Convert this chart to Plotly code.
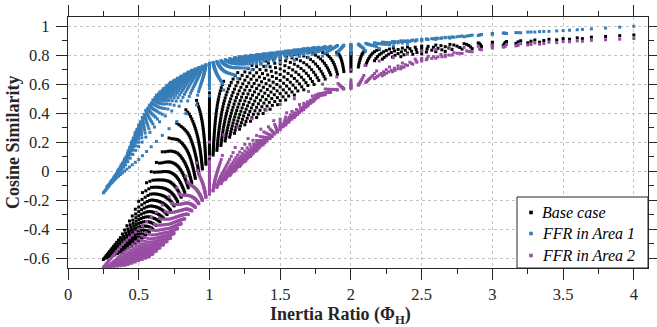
import numpy as np
import plotly.graph_objects as go

# Inertia grid (both areas): H values 1.0 ... 4.0
H_VALUES = [1.0, 1.1, 1.2, 1.3, 1.4, 1.5, 1.6, 1.7, 1.8, 1.9, 2.0,
            2.1, 2.2, 2.3, 2.4, 2.5, 2.6, 2.7, 2.8, 2.9, 3.0,
            3.1, 3.2, 3.3, 3.4, 3.5, 3.6, 3.7, 3.8, 3.9, 4.0]

# Envelopes (x = inertia ratio, y = cosine similarity)
BASE_HI_X = [0.25, 0.37, 0.46, 0.53, 0.59, 0.66, 0.72, 0.78, 0.86, 1.0, 1.1, 1.2, 1.3, 1.5, 1.7, 2.0, 2.3, 2.6, 3.0, 3.5, 4.0]
BASE_HI_Y = [-0.61, -0.46, -0.30, -0.14, 0.0, 0.12, 0.24, 0.35, 0.46, 0.54, 0.62, 0.68, 0.73, 0.79, 0.82, 0.82, 0.85, 0.87, 0.89, 0.915, 0.94]
BASE_LO_X = [0.25, 0.4, 0.5, 0.6, 0.7, 0.8, 0.9, 1.0, 1.1, 1.25, 1.5, 1.7, 1.87, 2.0, 2.2, 2.5, 3.0, 3.5, 4.0]
BASE_LO_Y = [-0.61, -0.55, -0.48, -0.40, -0.30, -0.18, -0.05, 0.08, 0.2, 0.32, 0.47, 0.58, 0.66, 0.69, 0.77, 0.81, 0.86, 0.905, 0.94]
BASE_SPREAD_X = [0.25, 1.0, 1.3, 4.0]
BASE_SPREAD_P = [0.8, 0.9, 1.3, 1.3]

FFR1_HI_X = [0.25, 0.32, 0.41, 0.48, 0.55, 0.62, 0.72, 0.86, 1.0, 1.21, 1.47, 1.7, 1.94, 2.5, 3.0, 3.5, 4.0]
FFR1_HI_Y = [-0.14, -0.05, 0.10, 0.28, 0.42, 0.52, 0.61, 0.69, 0.745, 0.79, 0.82, 0.85, 0.87, 0.91, 0.95, 0.97, 1.0]
FFR1_LO_X = [0.25, 0.3, 0.35, 0.4, 0.45, 0.5, 0.6, 0.7, 0.8, 0.9, 1.0, 1.1, 1.2, 1.3, 1.5, 1.75, 2.0, 2.5, 3.0, 3.5, 4.0]
FFR1_LO_Y = [-0.15, -0.09, -0.04, 0.0, 0.04, 0.08, 0.18, 0.28, 0.37, 0.45, 0.52, 0.56, 0.64, 0.70, 0.75, 0.79, 0.81, 0.90, 0.945, 0.97, 1.0]
FFR1_SPREAD_X = [0.25, 0.45, 0.7, 1.0, 4.0]
FFR1_SPREAD_P = [0.6, 0.45, 0.35, 0.45, 0.5]

FFR2_HI_X = [0.25, 0.39, 0.5, 0.62, 0.72, 0.8, 0.86, 0.93, 1.0, 1.1, 1.25, 1.4, 1.6, 1.8, 2.0, 2.2, 2.5, 3.0, 3.5, 4.0]
FFR2_HI_Y = [-0.665, -0.5, -0.4, -0.29, -0.17, -0.08, 0.0, 0.08, 0.2, 0.25, 0.33, 0.42, 0.5, 0.6, 0.7, 0.76, 0.83, 0.87, 0.895, 0.915]
FFR2_LO_X = [0.25, 0.41, 0.58, 0.72, 0.84, 0.93, 1.0, 1.2, 1.4, 1.6, 1.77, 1.9, 2.0, 2.2, 2.5, 3.0, 3.5, 4.0]
FFR2_LO_Y = [-0.665, -0.65, -0.59, -0.47, -0.31, -0.22, -0.16, 0.02, 0.2, 0.37, 0.51, 0.56, 0.57, 0.65, 0.76, 0.85, 0.89, 0.915]
FFR2_SPREAD_X = [0.25, 0.9, 1.1, 4.0]
FFR2_SPREAD_P = [0.5, 0.5, 0.25, 0.3]

SERIES_NAMES = ["Base case", "FFR in Area 1", "FFR in Area 2"]
SERIES_COLORS = ["#000000", "#377eb8", "#984ea3"]

X_TICKS = [0, 0.5, 1, 1.5, 2, 2.5, 3, 3.5, 4]
X_TICK_TEXT = ["0", "0.5", "1", "1.5", "2", "2.5", "3", "3.5", "4"]
Y_TICKS = [-0.6, -0.4, -0.2, 0, 0.2, 0.4, 0.6, 0.8, 1]
Y_TICK_TEXT = ["-0.6", "-0.4", "-0.2", "0", "0.2", "0.4", "0.6", "0.8", "1"]
X_TITLE = "<b>Inertia Ratio (Φ<sub>H</sub>)</b>"
Y_TITLE = "<b>Cosine Similarity</b>"

FONT = "'Liberation Serif', 'Times New Roman', Times, serif"
AXIS_COLOR = "#262626"

# figure geometry (pixels)
W, H = 657, 327
ML, MR, MT, MB = 68, 9, 17, 59
PW, PH = W - ML - MR, H - MT - MB


def grid_points():
    h = np.array(H_VALUES)
    A, B = np.meshgrid(h, h)
    a = A.ravel()
    b = B.ravel()
    x = a / b
    bmin = np.maximum(1.0, 1.0 / x)
    bmax = np.minimum(4.0, 4.0 / x)
    den = bmax - bmin
    ok = den > 1e-9
    u = np.where(ok, (b - bmin) / np.where(ok, den, 1.0), 0.0)
    return x, np.clip(u, 0, 1)


x, u = grid_points()


def series(hx, hy, lx, ly, px, pp, top_at_zero):
    hi = np.interp(x, hx, hy)
    lo = np.interp(x, lx, ly)
    w = u ** np.interp(x, px, pp)
    if top_at_zero:
        return hi - (hi - lo) * w
    return lo + (hi - lo) * w


y_base = series(BASE_HI_X, BASE_HI_Y, BASE_LO_X, BASE_LO_Y, BASE_SPREAD_X, BASE_SPREAD_P, True)
y_ffr1 = series(FFR1_HI_X, FFR1_HI_Y, FFR1_LO_X, FFR1_LO_Y, FFR1_SPREAD_X, FFR1_SPREAD_P, False)
y_ffr2 = series(FFR2_HI_X, FFR2_HI_Y, FFR2_LO_X, FFR2_LO_Y, FFR2_SPREAD_X, FFR2_SPREAD_P, True)

fig = go.Figure()
for name, col, yy in zip(SERIES_NAMES, SERIES_COLORS, [y_base, y_ffr1, y_ffr2]):
    fig.add_trace(go.Scatter(
        x=x, y=yy, mode="markers", name=name, showlegend=False,
        marker=dict(symbol="square", size=3, color=col, line=dict(width=0)),
    ))
# invisible trace on the mirrored (top/right) axes so their ticks are drawn
fig.add_trace(go.Scatter(x=[None], y=[None], xaxis="x2", yaxis="y2",
                         showlegend=False, hoverinfo="skip"))

X_RANGE = [0, 4.1]
Y_RANGE = [-0.669, 1.064]
tick_font = dict(family=FONT, size=16.5, color=AXIS_COLOR)


def px_to_paper_x(px):
    return (px - ML) / PW


def px_to_paper_y(py):
    return (H - MB - py) / PH


# ---- legend (drawn manually to match the boxed MATLAB-style legend) ----
LEG_LEFT, LEG_TOP = 517, 197
LEG_ROWS = [212.5, 233.5, 255.5]
LEG_MARK_X, LEG_TEXT_X = 531, 540
shapes = [dict(type="rect", xref="paper", yref="paper",
               x0=px_to_paper_x(LEG_LEFT), x1=1.0, y0=0.0, y1=px_to_paper_y(LEG_TOP),
               line=dict(color=AXIS_COLOR, width=1), fillcolor="white", layer="above")]
annotations = []
for name, col, ry in zip(SERIES_NAMES, SERIES_COLORS, LEG_ROWS):
    shapes.append(dict(type="rect", xref="paper", yref="paper",
                       x0=px_to_paper_x(LEG_MARK_X - 1.8), x1=px_to_paper_x(LEG_MARK_X + 1.8),
                       y0=px_to_paper_y(ry + 1.8), y1=px_to_paper_y(ry - 1.8),
                       line=dict(width=0), fillcolor=col, layer="above"))
    annotations.append(dict(text=f"<i>{name}</i>", xref="paper", yref="paper",
                            x=px_to_paper_x(LEG_TEXT_X), y=px_to_paper_y(ry),
                            xanchor="left", yanchor="middle", showarrow=False,
                            font=dict(family=FONT, size=16, color="#000000")))

# ---- axis titles ----
annotations.append(dict(text=X_TITLE, xref="paper", yref="paper",
                        x=px_to_paper_x(340), y=px_to_paper_y(315),
                        xanchor="center", yanchor="middle", showarrow=False,
                        font=dict(family=FONT, size=18, color=AXIS_COLOR)))
annotations.append(dict(text=Y_TITLE, xref="paper", yref="paper",
                        x=px_to_paper_x(13), y=px_to_paper_y(142),
                        xanchor="center", yanchor="middle", showarrow=False, textangle=-90,
                        font=dict(family=FONT, size=18, color=AXIS_COLOR)))

fig.update_layout(
    width=W, height=H,
    margin=dict(l=ML, r=MR, t=MT, b=MB),
    plot_bgcolor="white", paper_bgcolor="white",
    font=dict(family=FONT, color=AXIS_COLOR),
    showlegend=False,
    shapes=shapes,
    annotations=annotations,
    xaxis=dict(range=X_RANGE, tickvals=X_TICKS, ticktext=X_TICK_TEXT, automargin=False,
               showline=True, linecolor=AXIS_COLOR, linewidth=1.2, mirror=True,
               ticks="outside", ticklen=11, tickwidth=1, tickcolor=AXIS_COLOR,
               ticklabelstandoff=0,
               minor=dict(dtick=0.25, tick0=0, ticks="outside", ticklen=5, tickcolor=AXIS_COLOR, showgrid=False),
               showgrid=True, gridcolor="#c4c4c4", griddash="3px,3px", gridwidth=1, zeroline=False,
               tickfont=tick_font),
    yaxis=dict(range=Y_RANGE, tickvals=Y_TICKS, ticktext=Y_TICK_TEXT, automargin=False,
               showline=True, linecolor=AXIS_COLOR, linewidth=1.2, mirror=True,
               ticks="outside", ticklen=11, tickwidth=1, tickcolor=AXIS_COLOR,
               ticklabelstandoff=3,
               minor=dict(dtick=0.1, tick0=0, ticks="outside", ticklen=5, tickcolor=AXIS_COLOR, showgrid=False),
               showgrid=True, gridcolor="#c4c4c4", griddash="3px,3px", gridwidth=1, zeroline=False,
               tickfont=tick_font),
    xaxis2=dict(range=X_RANGE, overlaying="x", side="top", anchor="y", automargin=False,
                tickvals=X_TICKS, showticklabels=False, showgrid=False, zeroline=False, showline=False,
                ticks="outside", ticklen=11, tickwidth=1, tickcolor=AXIS_COLOR,
                minor=dict(dtick=0.25, tick0=0, ticks="outside", ticklen=5, tickcolor=AXIS_COLOR, showgrid=False)),
    yaxis2=dict(range=Y_RANGE, overlaying="y", side="right", anchor="x", automargin=False,
                tickvals=Y_TICKS, showticklabels=False, showgrid=False, zeroline=False, showline=False,
                ticks="outside", ticklen=11, tickwidth=1, tickcolor=AXIS_COLOR,
                minor=dict(dtick=0.1, tick0=0, ticks="outside", ticklen=5, tickcolor=AXIS_COLOR, showgrid=False)),
)

fig.write_html("out.html", config={"displayModeBar": False},
               post_script="document.body.style.margin='0';document.body.style.overflow='hidden';")
